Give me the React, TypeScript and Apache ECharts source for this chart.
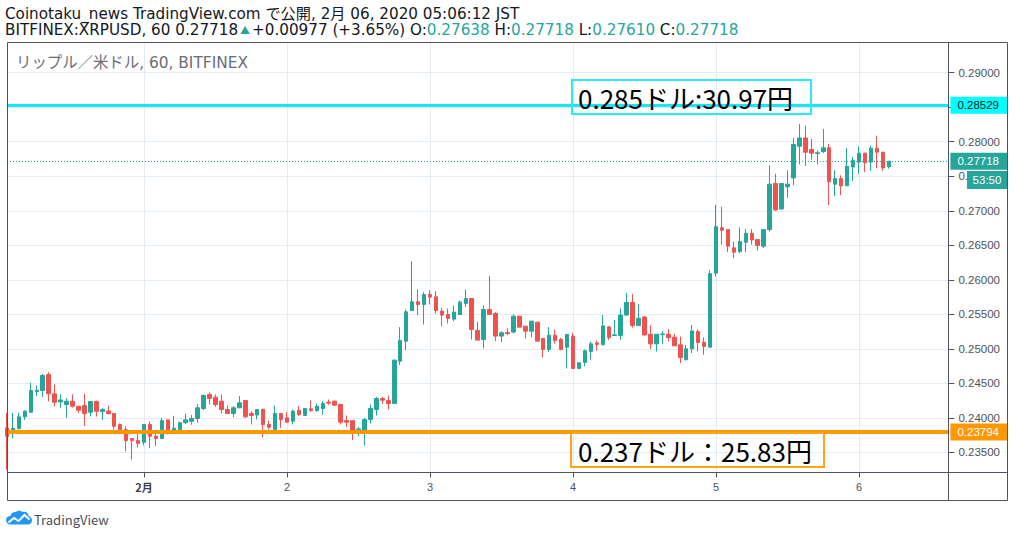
import React, { useEffect, useRef } from "react";
import * as echarts from "echarts";

// ---------- data ----------
const opens = [
  0.23855, 0.23816, 0.23845, 0.24014, 0.24081, 0.2438, 0.24396, 0.24628, 0.24348, 0.2423,
  0.24193, 0.2424, 0.24168, 0.24178, 0.24081, 0.24236, 0.2409, 0.241, 0.24062, 0.23903,
  0.2383, 0.237, 0.2367, 0.23645, 0.23903, 0.23733, 0.237, 0.2397, 0.2381, 0.2383,
  0.2393, 0.2395, 0.2399, 0.24135, 0.24338, 0.243, 0.24242, 0.24121, 0.24063, 0.24145,
  0.24251, 0.24063, 0.2404, 0.24121, 0.23903, 0.2383, 0.24063, 0.24, 0.23952, 0.24111,
  0.24034, 0.2413, 0.24106, 0.24135, 0.24227, 0.24242, 0.24193, 0.2396, 0.2396, 0.2383,
  0.23821, 0.23976, 0.24121, 0.2428, 0.24251, 0.24208, 0.24821, 0.25111, 0.25555, 0.25681,
  0.25642, 0.25787, 0.25753, 0.25546, 0.25497, 0.2543, 0.25497, 0.25657, 0.25729, 0.25266,
  0.25135, 0.2557, 0.25512, 0.25184, 0.25237, 0.25242, 0.25473, 0.25328, 0.25256, 0.25386,
  0.2515, 0.2499, 0.25198, 0.25135, 0.25024, 0.25184, 0.24715, 0.24803, 0.24962, 0.25086,
  0.25058, 0.25317, 0.25192, 0.25192, 0.25489, 0.25671, 0.25336, 0.2546, 0.25211, 0.25072,
  0.25206, 0.25211, 0.25168, 0.25058, 0.24842, 0.25, 0.25249, 0.25096, 0.25024, 0.26098,
  0.26755, 0.26727, 0.26463, 0.2641, 0.26544, 0.26674, 0.26583, 0.26487, 0.26727, 0.27395,
  0.27026, 0.27347, 0.27476, 0.27935, 0.28055, 0.27888, 0.2783, 0.27859, 0.27912, 0.27385,
  0.27467, 0.27361, 0.27634, 0.27706, 0.27835, 0.27706, 0.27907, 0.27849, 0.27638,
];
const closes = [
  0.23733, 0.23845, 0.24014, 0.24096, 0.24396, 0.244, 0.24613, 0.24348, 0.24226, 0.2426,
  0.24241, 0.24168, 0.2411, 0.24062, 0.24236, 0.24096, 0.2412, 0.2406, 0.23878, 0.2383,
  0.2367, 0.2367, 0.2363, 0.23903, 0.23733, 0.237, 0.23961, 0.23772, 0.2385, 0.2393,
  0.2397, 0.2399, 0.24145, 0.24324, 0.2428, 0.24193, 0.24121, 0.24063, 0.24145, 0.24217,
  0.24014, 0.24034, 0.24121, 0.23903, 0.23865, 0.24063, 0.23976, 0.23937, 0.24097, 0.24048,
  0.24135, 0.24106, 0.2417, 0.24208, 0.24213, 0.24184, 0.23937, 0.23937, 0.23821, 0.2384,
  0.23976, 0.24135, 0.2428, 0.24256, 0.24208, 0.24836, 0.25121, 0.25536, 0.25681, 0.25642,
  0.25787, 0.25749, 0.25555, 0.25488, 0.2544, 0.25532, 0.25676, 0.25729, 0.2528, 0.25126,
  0.2557, 0.25497, 0.25184, 0.25232, 0.25222, 0.25473, 0.25314, 0.25256, 0.25401, 0.25111,
  0.2499, 0.25198, 0.25121, 0.2499, 0.25208, 0.24715, 0.24797, 0.24971, 0.25072, 0.25062,
  0.25331, 0.25163, 0.25202, 0.25489, 0.25671, 0.25336, 0.25441, 0.25201, 0.25072, 0.25211,
  0.25216, 0.25163, 0.25043, 0.24875, 0.25, 0.25259, 0.25091, 0.25034, 0.26089, 0.2677,
  0.26717, 0.26487, 0.264, 0.26554, 0.26674, 0.26578, 0.26496, 0.26727, 0.27385, 0.27012,
  0.27395, 0.27385, 0.2796, 0.28055, 0.27849, 0.27835, 0.2784, 0.27912, 0.27419, 0.27467,
  0.27361, 0.27644, 0.2773, 0.27835, 0.27696, 0.27907, 0.27849, 0.2762, 0.27718,
];
const lows = [
  0.2325, 0.237, 0.2383, 0.2397, 0.24081, 0.24313, 0.243, 0.2424, 0.24168, 0.24145,
  0.24, 0.2415, 0.2407, 0.23878, 0.2402, 0.2402, 0.23966, 0.2406, 0.2383, 0.2382,
  0.23516, 0.23396, 0.2357, 0.236, 0.2356, 0.2359, 0.2369, 0.2376, 0.238, 0.2382,
  0.2391, 0.239, 0.2393, 0.2411, 0.24193, 0.24155, 0.24063, 0.24063, 0.2401, 0.2414,
  0.24, 0.23903, 0.23976, 0.2372, 0.2383, 0.2383, 0.23855, 0.23935, 0.23903, 0.24024,
  0.2403, 0.24087, 0.24087, 0.24048, 0.2419, 0.2417, 0.23903, 0.2387, 0.23676, 0.23734,
  0.23599, 0.23918, 0.24034, 0.24203, 0.24121, 0.24208, 0.24763, 0.2498, 0.25546, 0.25488,
  0.25353, 0.25642, 0.25512, 0.25328, 0.25367, 0.25401, 0.25497, 0.25604, 0.25135, 0.25126,
  0.25005, 0.25488, 0.25111, 0.25097, 0.25198, 0.25222, 0.25314, 0.2515, 0.25169, 0.25111,
  0.24879, 0.24952, 0.25072, 0.24976, 0.24715, 0.24715, 0.2471, 0.24749, 0.24842, 0.24976,
  0.25058, 0.2513, 0.2519, 0.2513, 0.2548, 0.25307, 0.25336, 0.25192, 0.25, 0.24962,
  0.25072, 0.25106, 0.2504, 0.24794, 0.24832, 0.24938, 0.24962, 0.24914, 0.2502, 0.2605,
  0.26511, 0.264, 0.26314, 0.26386, 0.264, 0.26511, 0.26424, 0.26458, 0.267, 0.26998,
  0.2702, 0.27189, 0.27371, 0.27672, 0.27648, 0.27739, 0.27672, 0.27835, 0.27083, 0.27213,
  0.27227, 0.27361, 0.27433, 0.27538, 0.27562, 0.27577, 0.2762, 0.27577, 0.2761,
];
const highs = [
  0.24072, 0.24072, 0.24072, 0.2411, 0.24507, 0.24468, 0.24638, 0.24661, 0.24483, 0.24338,
  0.2428, 0.2434, 0.2417, 0.24352, 0.24245, 0.2425, 0.24145, 0.2418, 0.24065, 0.2392,
  0.23878, 0.2371, 0.2378, 0.23905, 0.2395, 0.2379, 0.24, 0.23975, 0.2403, 0.23945,
  0.2406, 0.2404, 0.242, 0.24338, 0.24372, 0.24338, 0.24338, 0.24179, 0.2417, 0.24314,
  0.24255, 0.24097, 0.24125, 0.24135, 0.23961, 0.24179, 0.24065, 0.24082, 0.24121, 0.24169,
  0.2414, 0.24251, 0.24208, 0.24242, 0.24266, 0.2425, 0.24195, 0.24034, 0.2397, 0.2387,
  0.24, 0.24193, 0.24304, 0.24304, 0.24324, 0.2484, 0.25314, 0.2557, 0.2627, 0.2586,
  0.25821, 0.25845, 0.25836, 0.25594, 0.25584, 0.25628, 0.257, 0.2586, 0.2573, 0.25391,
  0.25628, 0.26053, 0.25531, 0.25256, 0.25295, 0.25497, 0.25475, 0.2533, 0.25405, 0.2539,
  0.25152, 0.25314, 0.2528, 0.25159, 0.2521, 0.25232, 0.248, 0.2499, 0.25106, 0.2512,
  0.25489, 0.25331, 0.25417, 0.25585, 0.2581, 0.25791, 0.25647, 0.25475, 0.25345, 0.25215,
  0.25259, 0.25283, 0.25216, 0.25177, 0.25058, 0.25345, 0.25283, 0.25163, 0.26137, 0.27086,
  0.27058, 0.2673, 0.26554, 0.2676, 0.26736, 0.26736, 0.26585, 0.26735, 0.27658, 0.27538,
  0.274, 0.27586, 0.28055, 0.28256, 0.28232, 0.2804, 0.27873, 0.28184, 0.27969, 0.27586,
  0.27514, 0.27907, 0.27778, 0.27931, 0.2784, 0.27945, 0.28089, 0.2785, 0.27718,
];

// time axis: hourly slots (candles + empty space on the right), day ticks
const totalSlots = 159;
const dayTickIndex = [23, 47, 71, 95, 119, 143];
const dayTickLabels = ["2月", "2", "3", "4", "5", "6"];
const monthLabelIndex = 0;

// price axis range and levels
const yMin = 0.23208;
const yMax = 0.29445;
const yStep = 0.005;
const resistanceLevel = 0.28529;
const supportLevel = 0.23794;
const lastPrice = 0.27718;

// texts
const publishLine = "Coinotaku_news TradingView.com で公開, 2月 06, 2020 05:06:12 JST";
const symbolText = "BITFINEX:XRPUSD, 60 0.27718";
const changeText = "+0.00977 (+3.65%)";
const ohlcLabels = ["O:", "H:", "L:", "C:"];
const ohlcValues = ["0.27638", "0.27718", "0.27610", "0.27718"];
const legendTitle = "リップル／米ドル, 60, BITFINEX";
const resistanceNote = "0.285ドル:30.97円";
const supportNote = "0.237ドル：25.83円";
const countdownText = "53:50";
const brandText = "TradingView";

// ---------- styling ----------
const UP = "#26a69a";
const DOWN = "#ef5350";
const FRAME = "#50535e";
const GRIDC = "#e3ecf2";
const AXIS_TXT = "#4c525e";
const JP = "'Noto Sans CJK JP', 'Noto Sans', sans-serif";
const HDR = "'DejaVu Sans', 'Noto Sans CJK JP', sans-serif";
const NUM = "'Liberation Sans', Arial, sans-serif";
const HDR_SIZE = 15.2;
const HDR_LH = 15;

echarts.graphic.registerShape(
  "tvcloud",
  echarts.graphic.extendPath(
    "M5 14 C2 14 0 12 0 9.5 C0 7 2 5.5 4.5 5.5 C5 2.5 7.5 1 10 1.5 C11.5 0 14.5 -0.2 16.5 1.5 C19 0.5 22.5 2 22.5 5.5 C25 6 26 8 26 10 C26 12.5 24 14 21.5 14 Z",
    {}
  )
);

export default function App() {
  const ref = useRef<HTMLDivElement>(null);

  useEffect(() => {
    document.body.style.margin = "0";
    const el = ref.current;
    if (!el) return;
    const chart = echarts.init(el, null, { renderer: "svg" });

    const categories = Array.from({ length: totalSlots }, (_, i) => String(i));
    const candles = opens.map((o, i) => [o, closes[i], lows[i], highs[i]]);
    const isDay = (i: number) => dayTickIndex.indexOf(i) >= 0;

    const axisLabelBox = (bg: string, fg: string) => ({
      show: true,
      position: "end",
      distance: 2,
      backgroundColor: bg,
      color: fg,
      padding: [3, 8, 2, 7],
      fontSize: 11.5,
      fontFamily: NUM,
      formatter: (p: any) => Number(p.value).toFixed(5),
    });

    const headerRich: any = {
      k: { fill: "#131722", color: "#131722", fontSize: HDR_SIZE, fontFamily: HDR, lineHeight: HDR_LH },
      t: { fill: UP, color: UP, fontSize: 10, fontFamily: JP, lineHeight: HDR_LH, padding: [0, 2, 2, 2] },
      v: { fill: UP, color: UP, fontSize: HDR_SIZE, fontFamily: HDR, lineHeight: HDR_LH },
    };
    let header2 = `{k|${symbolText}}{t|▲}{k|${changeText} }`;
    ohlcLabels.forEach((l, i) => {
      header2 += `{k|${i ? " " : ""}${l}}{v|${ohlcValues[i]}}`;
    });

    const option: any = {
      animation: false,
      backgroundColor: "#ffffff",
      grid: { left: 7, top: 42, width: 941.4, height: 430.5, containLabel: false },
      xAxis: {
        type: "category",
        data: categories,
        boundaryGap: false,
        axisLine: { show: false },
        axisTick: {
          show: true,
          interval: (i: number) => isDay(i),
          length: 5,
          lineStyle: { color: FRAME },
        },
        axisLabel: {
          interval: (i: number) => isDay(i),
          margin: 9,
          color: AXIS_TXT,
          fontSize: 11,
          fontFamily: NUM,
          formatter: (_v: string, i: number) => {
            const k = dayTickIndex.indexOf(i);
            if (k < 0) return "";
            return k === monthLabelIndex ? `{m|${dayTickLabels[k]}}` : dayTickLabels[k];
          },
          rich: {
            m: { fontWeight: "bold", fontSize: 11, color: "#3d404a", fontFamily: JP },
          },
        },
        splitLine: {
          show: true,
          interval: (i: number) => isDay(i),
          lineStyle: { color: GRIDC, width: 1 },
        },
      },
      yAxis: {
        type: "value",
        position: "right",
        min: yMin,
        max: yMax,
        splitNumber: 12,
        minInterval: yStep,
        maxInterval: yStep,
        axisLine: { show: false },
        axisTick: { show: true, length: 6, lineStyle: { color: FRAME } },
        axisLabel: {
          showMinLabel: false,
          showMaxLabel: false,
          margin: 10,
          color: AXIS_TXT,
          fontSize: 11.5,
          fontFamily: NUM,
          formatter: (v: number) => v.toFixed(5),
        },
        splitLine: { show: true, lineStyle: { color: GRIDC, width: 1 } },
      },
      series: [
        {
          type: "candlestick",
          data: candles,
          barWidth: 4,
          clip: true,
          itemStyle: {
            color: UP,
            color0: DOWN,
            borderColor: UP,
            borderColor0: DOWN,
            borderWidth: 1,
          },
          markLine: {
            symbol: ["none", "none"],
            silent: true,
            animation: false,
            precision: 5,
            data: [
              {
                yAxis: resistanceLevel,
                lineStyle: { color: "#14e8f4", width: 3, type: "solid" },
                label: axisLabelBox("#00ffff", "#131722"),
              },
              {
                yAxis: lastPrice,
                lineStyle: { color: UP, width: 1, type: [1, 2] },
                label: axisLabelBox(UP, "#ffffff"),
              },
              {
                yAxis: supportLevel,
                lineStyle: { color: "#ff9800", width: 4, type: "solid" },
                label: axisLabelBox("#ff9800", "#ffffff"),
              },
            ],
          },
        },
      ],
      graphic: [
        // frame
        {
          type: "rect",
          z: 50,
          silent: true,
          shape: { x: 7.5, y: 42.5, width: 1000, height: 458 },
          style: { fill: "none", stroke: FRAME, lineWidth: 1 },
        },
        {
          type: "line",
          z: 50,
          silent: true,
          shape: { x1: 948.5, y1: 42, x2: 948.5, y2: 500 },
          style: { stroke: FRAME, lineWidth: 1 },
        },
        {
          type: "line",
          z: 50,
          silent: true,
          shape: { x1: 7, y1: 472.5, x2: 1007, y2: 472.5 },
          style: { stroke: FRAME, lineWidth: 1 },
        },
        // header
        {
          type: "text",
          z: 60,
          x: 5,
          y: 14.2,
          style: {
            text: publishLine,
            fill: "#131722",
            fontSize: HDR_SIZE,
            fontFamily: HDR,
            lineHeight: HDR_LH,
            textVerticalAlign: "middle",
            verticalAlign: "middle",
          },
        },
        {
          type: "text",
          z: 60,
          x: 5,
          y: 30.4,
          style: {
            text: header2,
            rich: headerRich,
            fill: "#131722",
            fontSize: HDR_SIZE,
            fontFamily: HDR,
            lineHeight: HDR_LH,
            textVerticalAlign: "middle",
            verticalAlign: "middle",
          },
        },
        {
          type: "text",
          z: 60,
          x: 16,
          y: 63,
          style: {
            text: legendTitle,
            fill: "#6a6d78",
            fontSize: 15.4,
            fontFamily: HDR,
            textVerticalAlign: "middle",
            verticalAlign: "middle",
          },
        },
        // annotation boxes
        {
          type: "rect",
          z: 70,
          silent: true,
          shape: { x: 572, y: 80, width: 239, height: 34 },
          style: { fill: "none", stroke: "#2ceaf5", lineWidth: 2 },
        },
        {
          type: "text",
          z: 71,
          x: 578,
          y: 97,
          style: {
            text: resistanceNote,
            fill: "#000000",
            fontSize: 26,
            fontFamily: JP,
            textVerticalAlign: "middle",
            verticalAlign: "middle",
          },
        },
        {
          type: "rect",
          z: 70,
          silent: true,
          shape: { x: 571, y: 433, width: 253, height: 34 },
          style: { fill: "none", stroke: "#ffa31a", lineWidth: 2 },
        },
        {
          type: "text",
          z: 71,
          x: 578,
          y: 450,
          style: {
            text: supportNote,
            fill: "#000000",
            fontSize: 26,
            fontFamily: JP,
            textVerticalAlign: "middle",
            verticalAlign: "middle",
          },
        },
        // countdown box
        {
          type: "rect",
          z: 80,
          silent: true,
          shape: { x: 967, y: 171, width: 40, height: 18 },
          style: { fill: UP },
        },
        {
          type: "text",
          z: 81,
          x: 987,
          y: 180,
          style: {
            text: countdownText,
            fill: "#ffffff",
            fontSize: 11.5,
            fontFamily: NUM,
            textAlign: "center",
            align: "center",
            textVerticalAlign: "middle",
            verticalAlign: "middle",
          },
        },
        // brand
        {
          type: "tvcloud",
          z: 60,
          x: 6,
          y: 510.5,
          style: { fill: "#2196f3" },
        },
        {
          type: "polyline",
          z: 61,
          x: 6,
          y: 510.5,
          shape: { points: [[2.5, 12], [8, 7.5], [12.5, 10.5], [18.5, 4.5], [23.5, 9]] },
          style: { stroke: "#ffffff", lineWidth: 2, fill: "none" },
        },
        {
          type: "text",
          z: 60,
          x: 34,
          y: 519,
          style: {
            text: brandText,
            fill: "#4a4e5a",
            fontSize: 13,
            fontFamily: JP,
            textVerticalAlign: "middle",
            verticalAlign: "middle",
          },
        },
      ],
    };

    chart.setOption(option);
    return () => chart.dispose();
  }, []);

  return <div ref={ref} style={{ width: 1014, height: 537 }} />;
}
